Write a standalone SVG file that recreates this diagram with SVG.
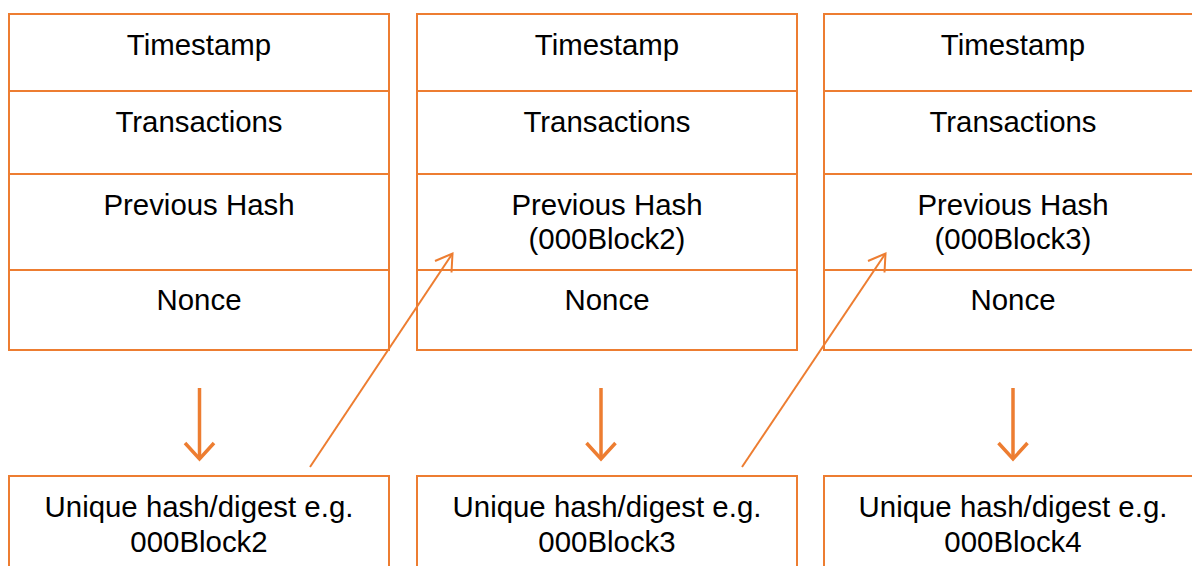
<svg xmlns="http://www.w3.org/2000/svg" width="1192" height="566" viewBox="0 0 1192 566">
<style>
.box{fill:#fff;stroke:#ED7D31;stroke-width:2}
.div{stroke:#ED7D31;stroke-width:2}
.t{font-family:"Liberation Sans",Arial,sans-serif;font-size:29.4px;fill:#000;text-anchor:middle}
.c{stroke:#ED7D31;fill:none;stroke-width:2}
.d{stroke:#ED7D31;fill:none;stroke-width:3.5}
</style>
<rect width="1192" height="566" fill="#fff"/>
<g id="block1">
<rect class="box" x="9" y="14" width="380" height="336"/>
<line class="div" x1="9" y1="91" x2="389" y2="91"/>
<line class="div" x1="9" y1="174" x2="389" y2="174"/>
<line class="div" x1="9" y1="270" x2="389" y2="270"/>
<text class="t" x="199" y="55">Timestamp</text>
<text class="t" x="199" y="132">Transactions</text>
<text class="t" x="199" y="215">Previous Hash</text>
<text class="t" x="199" y="310">Nonce</text>
</g>
<g id="block2">
<rect class="box" x="417" y="14" width="380" height="336"/>
<line class="div" x1="417" y1="91" x2="797" y2="91"/>
<line class="div" x1="417" y1="174" x2="797" y2="174"/>
<line class="div" x1="417" y1="270" x2="797" y2="270"/>
<text class="t" x="607" y="55">Timestamp</text>
<text class="t" x="607" y="132">Transactions</text>
<text class="t" x="607" y="215">Previous Hash</text>
<text class="t" x="607" y="249">(000Block2)</text>
<text class="t" x="607" y="310">Nonce</text>
</g>
<g id="block3">
<rect class="box" x="824" y="14" width="378" height="336"/>
<line class="div" x1="824" y1="91" x2="1202" y2="91"/>
<line class="div" x1="824" y1="174" x2="1202" y2="174"/>
<line class="div" x1="824" y1="270" x2="1202" y2="270"/>
<text class="t" x="1013" y="55">Timestamp</text>
<text class="t" x="1013" y="132">Transactions</text>
<text class="t" x="1013" y="215">Previous Hash</text>
<text class="t" x="1013" y="249">(000Block3)</text>
<text class="t" x="1013" y="310">Nonce</text>
</g>
<g id="hash1">
<rect class="box" x="9" y="476" width="380" height="110"/>
<text class="t" x="199" y="517">Unique hash/digest e.g.</text>
<text class="t" x="199" y="552">000Block2</text>
</g>
<g id="hash2">
<rect class="box" x="417" y="476" width="380" height="110"/>
<text class="t" x="607" y="517">Unique hash/digest e.g.</text>
<text class="t" x="607" y="552">000Block3</text>
</g>
<g id="hash3">
<rect class="box" x="824" y="476" width="378" height="110"/>
<text class="t" x="1013" y="517">Unique hash/digest e.g.</text>
<text class="t" x="1013" y="552">000Block4</text>
</g>
<g id="connectors">
<line class="d" x1="199.5" y1="388" x2="199.5" y2="459"/>
<polyline class="d" points="185,443 199.5,459 214,443"/>
<line class="d" x1="601" y1="388" x2="601" y2="459"/>
<polyline class="d" points="586.5,443 601,459 615.5,443"/>
<line class="d" x1="1013" y1="388" x2="1013" y2="459"/>
<polyline class="d" points="998.5,443 1013,459 1027.5,443"/>
<line class="c" x1="310" y1="467" x2="452.5" y2="253.5"/>
<polyline class="c" points="435,261 452.5,253.5 451.5,272.5"/>
<line class="c" x1="742" y1="467" x2="885.5" y2="253.5"/>
<polyline class="c" points="868,261 885.5,253.5 884.5,272.5"/>
</g>
</svg>
